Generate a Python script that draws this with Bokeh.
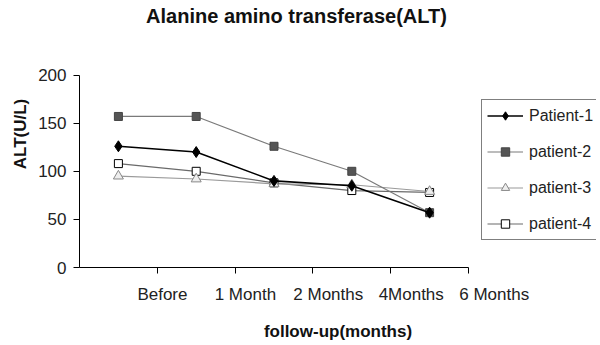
from bokeh.plotting import figure
from bokeh.models import (ColumnDataSource, FixedTicker, Range1d, Legend,
                          LegendItem, LinearAxis, Label)
from bokeh.embed import file_html
from bokeh.resources import INLINE

# ---- data ----
categories = ["Before", "1 Month", "2 Months", "4Months", "6 Months"]
patient1 = [126, 120, 90, 85, 57]
patient2 = [157, 157, 126, 100, 57]
patient3 = [95, 92, 87, 86, 79]
patient4 = [108, 100, 88, 80, 78]
series_names = ["Patient-1", "patient-2", "patient-3", "patient-4"]
y_ticks = [0, 50, 100, 150, 200]

title_text = "Alanine amino transferase(ALT)"
x_title = "follow-up(months)"
y_title = "ALT(U/L)"

FONT = "Liberation Sans"

n = len(categories)
x_pts = [i + 0.5 for i in range(n)]      # category centres (data points)
x_bounds = [i + 1 for i in range(n)]     # category boundaries (tick marks / labels)

# ---- layout (pixels) ----
W, H = 596, 343
LEFT, BOTTOM = 79, 71            # space for the axes
AXIS_W, AXIS_H = 389, 196        # drawn extent of the x / y axes
FRAME_W, FRAME_H = W - LEFT, H - BOTTOM
x_end = n * FRAME_W / AXIS_W               # frame extends right to hold the legend
y_end = y_ticks[-1] * FRAME_H / AXIS_H     # frame extends up to hold the title
LABEL_SCALE = 1.066                        # tick labels are spread a little wider than ticks

p = figure(width=W, height=H, output_backend="svg", toolbar_location=None,
           x_range=Range1d(0, x_end), y_range=Range1d(y_ticks[0], y_end),
           min_border_left=LEFT, min_border_right=0, min_border_top=0,
           min_border_bottom=BOTTOM)
p.outline_line_color = None
p.grid.visible = False
p.background_fill_color = "white"
p.border_fill_color = "white"

# ---- axes ----
def style_axis(ax):
    ax.axis_line_color = "black"
    ax.axis_line_width = 1
    ax.major_tick_line_color = "black"
    ax.major_tick_in = 0
    ax.major_tick_out = 6
    ax.minor_tick_line_color = None
    ax.major_label_text_font = FONT
    ax.major_label_text_font_size = "17px"
    ax.major_label_text_color = "#222222"
    ax.axis_label_text_font = FONT
    ax.axis_label_text_font_style = "bold"
    ax.axis_label_text_font_size = "17px"
    ax.axis_label_text_color = "#111111"

style_axis(p.xaxis[0])
style_axis(p.yaxis[0])

p.yaxis.ticker = FixedTicker(ticks=y_ticks)
p.yaxis.bounds = (y_ticks[0], y_ticks[-1])
p.yaxis.major_label_standoff = 7
p.yaxis.axis_label = y_title
p.yaxis.axis_label_standoff = 5

# primary x axis: boundary tick marks only
p.xaxis.ticker = FixedTicker(ticks=x_bounds)
p.xaxis.bounds = (0, n)
p.xaxis.major_label_overrides = {b: "" for b in x_bounds}
p.xaxis.major_label_standoff = 0

# label axis on a slightly stretched range, as the reference labels sit to the right
p.extra_x_ranges = {"lab": Range1d(0, x_end / LABEL_SCALE)}
lab_axis = LinearAxis(x_range_name="lab", ticker=FixedTicker(ticks=x_bounds),
                      bounds=(n / LABEL_SCALE - n, n),
                      major_label_overrides={b: c for b, c in zip(x_bounds, categories)})
style_axis(lab_axis)
lab_axis.axis_line_color = None
lab_axis.major_tick_line_color = None
lab_axis.major_tick_out = 0
lab_axis.major_label_standoff = 11
lab_axis.axis_label = x_title
lab_axis.axis_label_standoff = 15
p.add_layout(lab_axis, "below")

# ---- series ----
series_vals = [patient1, patient2, patient3, patient4]
styles = [
    dict(line_color="black", line_width=1.6, marker="diamond", size=11,
         fill_color="black", mline="black"),
    dict(line_color="#7a7a7a", line_width=1.2, marker="square", size=8,
         fill_color="#555555", mline="#444444"),
    dict(line_color="#9a9a9a", line_width=1.2, marker="triangle", size=10,
         fill_color="#eeeeee", mline="#888888"),
    dict(line_color="#6a6a6a", line_width=1.2, marker="square", size=8,
         fill_color="white", mline="black"),
]

renderers = {}
for idx in [3, 2, 1, 0]:
    st = styles[idx]
    src = ColumnDataSource(dict(x=x_pts, y=series_vals[idx]))
    lr = p.line("x", "y", source=src, line_color=st["line_color"],
                line_width=st["line_width"])
    sr = p.scatter("x", "y", source=src, marker=st["marker"], size=st["size"],
                   fill_color=st["fill_color"], line_color=st["mline"], line_width=1)
    renderers[idx] = [lr, sr]

items = [LegendItem(label=series_names[i], renderers=renderers[i]) for i in range(4)]
legend = Legend(items=items, location=(AXIS_W + 13, 27), orientation="vertical",
                border_line_color="black", border_line_width=1,
                background_fill_color="white", background_fill_alpha=1,
                padding=5, spacing=15, margin=0, glyph_height=21, glyph_width=36,
                label_height=21, label_standoff=6,
                label_text_font=FONT, label_text_font_size="16px",
                label_text_color="#222222", label_text_baseline="middle")
p.add_layout(legend)

# ---- title ----
p.add_layout(Label(x=217, y=FRAME_H - 20.5, x_units="screen", y_units="screen",
                   text=title_text, text_align="center", text_baseline="middle",
                   text_font=FONT, text_font_style="bold", text_font_size="20px",
                   text_color="#111111"))

open("out.html", "w").write(file_html(p, INLINE))
